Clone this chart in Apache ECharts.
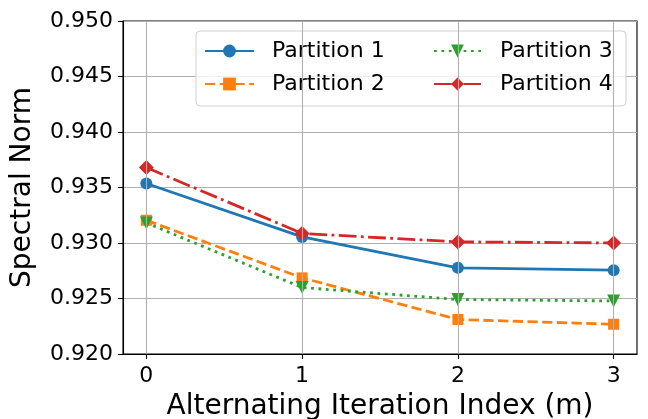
<!DOCTYPE html>
<html>
<head>
<meta charset="utf-8">
<script src="https://cdn.jsdelivr.net/npm/echarts@6/dist/echarts.min.js"></script>
<style>
  html, body { margin: 0; padding: 0; background: #fff; }
  #chart { width: 648px; height: 419px; }
</style>
</head>
<body>
<div id="chart"></div>
<script>
// iteration index m
var iterations = [0, 1, 2, 3];
var xTicks = [0, 1, 2, 3];

var partition1 = [0.93536, 0.93055, 0.92776, 0.92755];
var partition2 = [0.93205, 0.92686, 0.92311, 0.92268];
var partition3 = [0.93181, 0.92599, 0.92491, 0.92478];
var partition4 = [0.93680, 0.93086, 0.93010, 0.93001];

var seriesNames = ['Partition 1', 'Partition 2', 'Partition 3', 'Partition 4'];
var seriesColors = ['#1f77b4', '#ff7f0e', '#2ca02c', '#d62728'];

function pairs(values) {
  return iterations.map(function (x, i) { return [x, values[i]]; });
}

var font = 'DejaVu Sans';
var chart = echarts.init(document.getElementById('chart'), null, { renderer: 'canvas', width: 648, height: 419 });

var lineWidth = 2.8;

var option = {
  animation: false,
  backgroundColor: '#fff',
  grid: {
    left: 123, right: 11, top: 21, bottom: 65,
    show: true, borderColor: '#000', borderWidth: 1.1,
    containLabel: false, outerBoundsMode: 'none'
  },
  xAxis: {
    type: 'value', min: -0.15, max: 3.15,
    name: 'Alternating Iteration Index (m)', nameLocation: 'middle', nameGap: 39,
    nameTextStyle: { fontFamily: font, fontSize: 28, color: '#000' },
    axisLine: { show: true, onZero: false, lineStyle: { color: '#000', width: 1.1 } },
    axisTick: { show: true, length: 5, customValues: xTicks, lineStyle: { color: '#000', width: 1.1 } },
    axisLabel: { customValues: xTicks, margin: 11, fontFamily: font, fontSize: 22, color: '#000' },
    splitLine: { show: false }
  },
  yAxis: {
    type: 'value', min: 0.920, max: 0.950, interval: 0.005,
    name: 'Spectral Norm', nameLocation: 'middle', nameGap: 86,
    nameTextStyle: { fontFamily: font, fontSize: 28, color: '#000' },
    axisLine: { show: true, onZero: false, lineStyle: { color: '#000', width: 1.1 } },
    axisTick: { show: true, length: 5, lineStyle: { color: '#000', width: 1.1 } },
    axisLabel: {
      margin: 10, fontFamily: font, fontSize: 22, color: '#000',
      formatter: function (v) { return v.toFixed(3); }
    },
    splitLine: { show: true, lineStyle: { color: '#b0b0b0', width: 1.1 } }
  },
  graphic: [{
    type: 'rect', z: 3,
    shape: { x: 196, y: 31, width: 430, height: 75, r: 4 },
    style: { fill: 'rgba(255,255,255,0.8)', stroke: '#d0d0d0', lineWidth: 1 }
  }],
  legend: [{
    data: ['Partition 1', 'Partition 2'],
    orient: 'vertical', left: 204, top: 40, z: 4, padding: 0,
    itemWidth: 49, itemHeight: 16, itemGap: 11,
    textStyle: { fontFamily: font, fontSize: 22, color: '#000', lineHeight: 22, padding: [0, 0, 0, 13] }
  }, {
    data: ['Partition 3', 'Partition 4'],
    orient: 'vertical', left: 433, top: 40, z: 4, padding: 0,
    itemWidth: 47, itemHeight: 16, itemGap: 11,
    textStyle: { fontFamily: font, fontSize: 22, color: '#000', lineHeight: 22, padding: [0, 0, 0, 14] }
  }],
  series: [{
    name: 'grid-x', type: 'line', data: [], z: 1, silent: true,
    markLine: {
      silent: true, symbol: 'none', label: { show: false },
      lineStyle: { color: '#b0b0b0', width: 1.1, type: 'solid' },
      data: xTicks.map(function (t) { return { xAxis: t }; })
    }
  }, {
    name: seriesNames[0], type: 'line', data: pairs(partition1), color: seriesColors[0],
    symbol: 'circle', symbolSize: 12,
    lineStyle: { width: lineWidth, type: 'solid' }
  }, {
    name: seriesNames[1], type: 'line', data: pairs(partition2), color: seriesColors[1],
    symbol: 'rect', symbolSize: 11,
    lineStyle: { width: lineWidth, type: [10.3, 4.4] }
  }, {
    name: seriesNames[2], type: 'line', data: pairs(partition3), color: seriesColors[2],
    symbol: 'triangle', symbolRotate: 180, symbolSize: 13,
    lineStyle: { width: lineWidth, type: [2.8, 4.6] }
  }, {
    name: seriesNames[3], type: 'line', data: pairs(partition4), color: seriesColors[3],
    symbol: 'diamond', symbolSize: 15,
    lineStyle: { width: lineWidth, type: [17.8, 4.4, 2.8, 4.4] }
  }]
};

chart.setOption(option);
</script>
</body>
</html>
